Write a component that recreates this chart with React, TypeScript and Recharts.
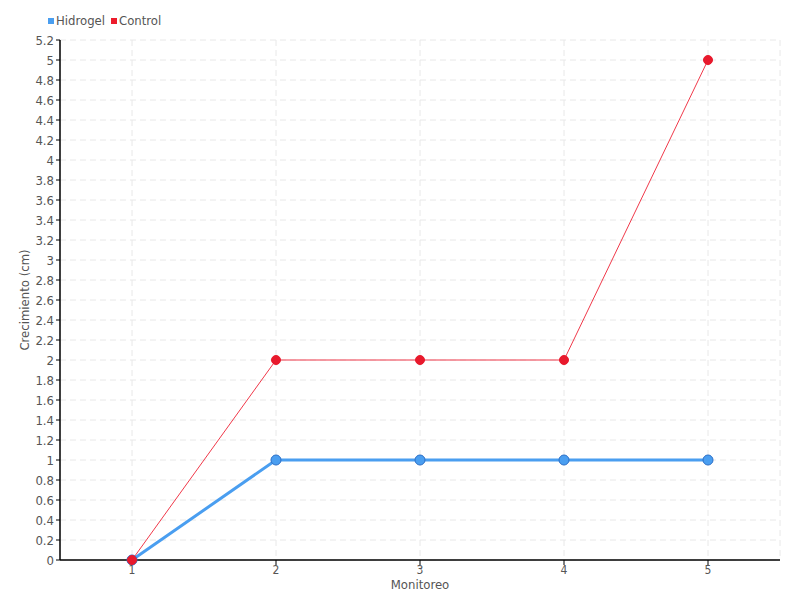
import { LineChart, CartesianGrid, XAxis, YAxis, Legend, Line, Label } from "recharts";

const monitoreo = ["1", "2", "3", "4", "5"];
const hidrogel = [0, 1, 1, 1, 1];
const control = [0, 2, 2, 2, 5];
const yTicks = [
    0, 0.2, 0.4, 0.6, 0.8, 1, 1.2, 1.4, 1.6, 1.8, 2, 2.2, 2.4, 2.6, 2.8, 3, 3.2, 3.4, 3.6, 3.8, 4,
    4.2, 4.4, 4.6, 4.8, 5, 5.2,
];

const data = monitoreo.map((m, i) => ({ name: m, hidrogel: hidrogel[i], control: control[i] }));

const FONT = "'DejaVu Sans Condensed', 'Liberation Sans Narrow', sans-serif";

const legendItems = [
    { label: "Hidrogel", color: "#4a9ef0" },
    { label: "Control", color: "#ec1c2c" },
];

const LegendBox = () => (
    <div style={{ display: "flex", fontFamily: FONT, fontSize: 13, color: "#555" }}>
        {legendItems.map((it) => (
            <span key={it.label} style={{ display: "flex", alignItems: "center", marginRight: 6 }}>
                <span style={{ width: 6, height: 6, background: it.color, marginRight: 2 }} />
                {it.label}
            </span>
        ))}
    </div>
);

const App = () => {
    return (
        <div style={{ position: "absolute", left: 0, top: 0 }}>
            <LineChart data={data} width={800} height={600} margin={{ top: 20, right: 20, bottom: 10, left: 0 }}>
                <CartesianGrid stroke="#e8e8e8" strokeDasharray="6 4" />
                <XAxis
                    dataKey="name"
                    padding={{ left: 72, right: 72 }}
                    height={30}
                    axisLine={{ stroke: "#000", strokeWidth: 1.5 }}
                    tickLine={{ stroke: "#000" }}
                    tickSize={5}
                    tick={{ fill: "#555", fontFamily: FONT, fontSize: 12, dy: -2 }}
                >
                    <Label value="Monitoreo" position="insideBottom" offset={1} style={{ fill: "#555", fontFamily: FONT, fontSize: 13 }} />
                </XAxis>
                <YAxis
                    domain={[0, 5.2]}
                    ticks={yTicks}
                    interval={0}
                    width={60}
                    axisLine={{ stroke: "#000", strokeWidth: 1.5 }}
                    tickLine={{ stroke: "#000" }}
                    tickSize={4}
                    tick={{ fill: "#555", fontFamily: FONT, fontSize: 13 }}
                >
                    <Label
                        value="Crecimiento (cm)"
                        angle={-90}
                        position="insideLeft"
                        offset={24}
                        style={{ textAnchor: "middle", fill: "#555", fontFamily: FONT, fontSize: 13 }}
                    />
                </YAxis>
                <Legend
                    verticalAlign="top"
                    align="left"
                    content={<LegendBox />}
                    wrapperStyle={{ top: 13, left: 48, width: "auto", height: 20 }}
                />
                <Line
                    dataKey="hidrogel"
                    name="Hidrogel"
                    stroke="#4a9ef0"
                    strokeWidth={3}
                    dot={{ r: 5, fill: "#4a9ef0", stroke: "#2c70c8", strokeWidth: 1, fillOpacity: 1 }}
                    isAnimationActive={false}
                />
                <Line
                    dataKey="control"
                    name="Control"
                    stroke="#f0394a"
                    strokeWidth={1}
                    dot={{ r: 4.5, fill: "#e8192c", stroke: "#e8192c", strokeWidth: 1, fillOpacity: 1 }}
                    isAnimationActive={false}
                />
            </LineChart>
        </div>
    );
};
export default App;
